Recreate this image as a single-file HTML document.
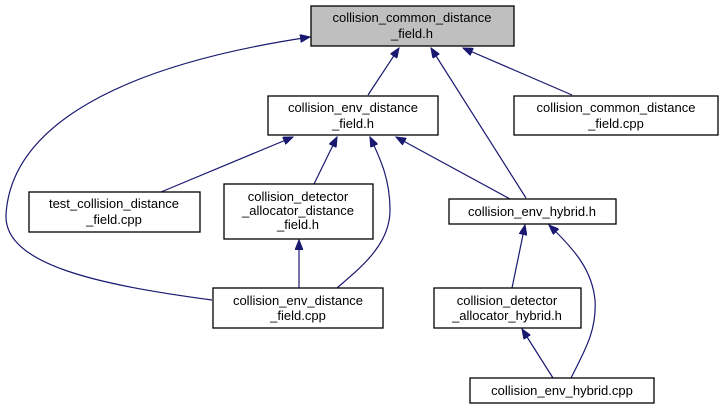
<!DOCTYPE html>
<html><head><meta charset="utf-8"><style>
html,body{margin:0;padding:0;background:#fff;}
svg{display:block;}
text{font-family:"Liberation Sans",sans-serif;font-size:13px;fill:#000;text-anchor:middle;}
rect{stroke:#000;stroke-width:1.3;fill:#fff;}
path{fill:none;stroke:#191970;stroke-width:1.2;}
</style></head><body>
<svg width="721" height="409" viewBox="0 0 721 409" xmlns="http://www.w3.org/2000/svg">
<defs>
<marker id="a" markerWidth="11" markerHeight="8" refX="10" refY="4" orient="auto" markerUnits="userSpaceOnUse">
<path d="M0,0 L10,4 L0,8 Z" style="fill:#191970;stroke:#191970;stroke-width:1"/>
</marker>
</defs>
<!-- edges -->
<path d="M368,95 L399,48" marker-end="url(#a)"/>
<path d="M526,198 L431,48" marker-end="url(#a)"/>
<path d="M572,95 L463,48" marker-end="url(#a)"/>
<path d="M212,300 C100,285 4,265 6,215 C10,140 90,70 310,37" marker-end="url(#a)"/>
<path d="M161,192 L293,137" marker-end="url(#a)"/>
<path d="M314,184 L337,137" marker-end="url(#a)"/>
<path d="M337,288 C360,268 390,245 390,210 C390,180 381,160 370,137" marker-end="url(#a)"/>
<path d="M510,199 L396,137" marker-end="url(#a)"/>
<path d="M299,288 L299,240" marker-end="url(#a)"/>
<path d="M512,288 L525,225" marker-end="url(#a)"/>
<path d="M571,378 C585,350 597,330 595,300 C592,270 575,250 549,225" marker-end="url(#a)"/>
<path d="M553,378 L522,329" marker-end="url(#a)"/>
<!-- nodes -->
<rect x="311" y="6" width="203" height="40" style="fill:#bfbfbf"/>
<text x="412" y="22">collision_common_distance</text><text x="412" y="38">_field.h</text>

<rect x="268" y="96" width="170" height="39"/>
<text x="353" y="112">collision_env_distance</text><text x="353" y="128">_field.h</text>

<rect x="514" y="96" width="204" height="39"/>
<text x="616" y="112">collision_common_distance</text><text x="616" y="128">_field.cpp</text>

<rect x="29" y="192" width="171" height="40"/>
<text x="114" y="208">test_collision_distance</text><text x="114" y="224">_field.cpp</text>

<rect x="224" y="184" width="149" height="55"/>
<text x="298" y="201">collision_detector</text><text x="298" y="215">_allocator_distance</text><text x="298" y="229">_field.h</text>

<rect x="449" y="199" width="167" height="25"/>
<text x="532" y="216">collision_env_hybrid.h</text>

<rect x="213" y="288" width="170" height="40"/>
<text x="298" y="305">collision_env_distance</text><text x="298" y="320">_field.cpp</text>

<rect x="434" y="288" width="147" height="40"/>
<text x="507" y="305">collision_detector</text><text x="507" y="320">_allocator_hybrid.h</text>

<rect x="470" y="378" width="184" height="25"/>
<text x="562" y="395">collision_env_hybrid.cpp</text>
</svg>
</body></html>
